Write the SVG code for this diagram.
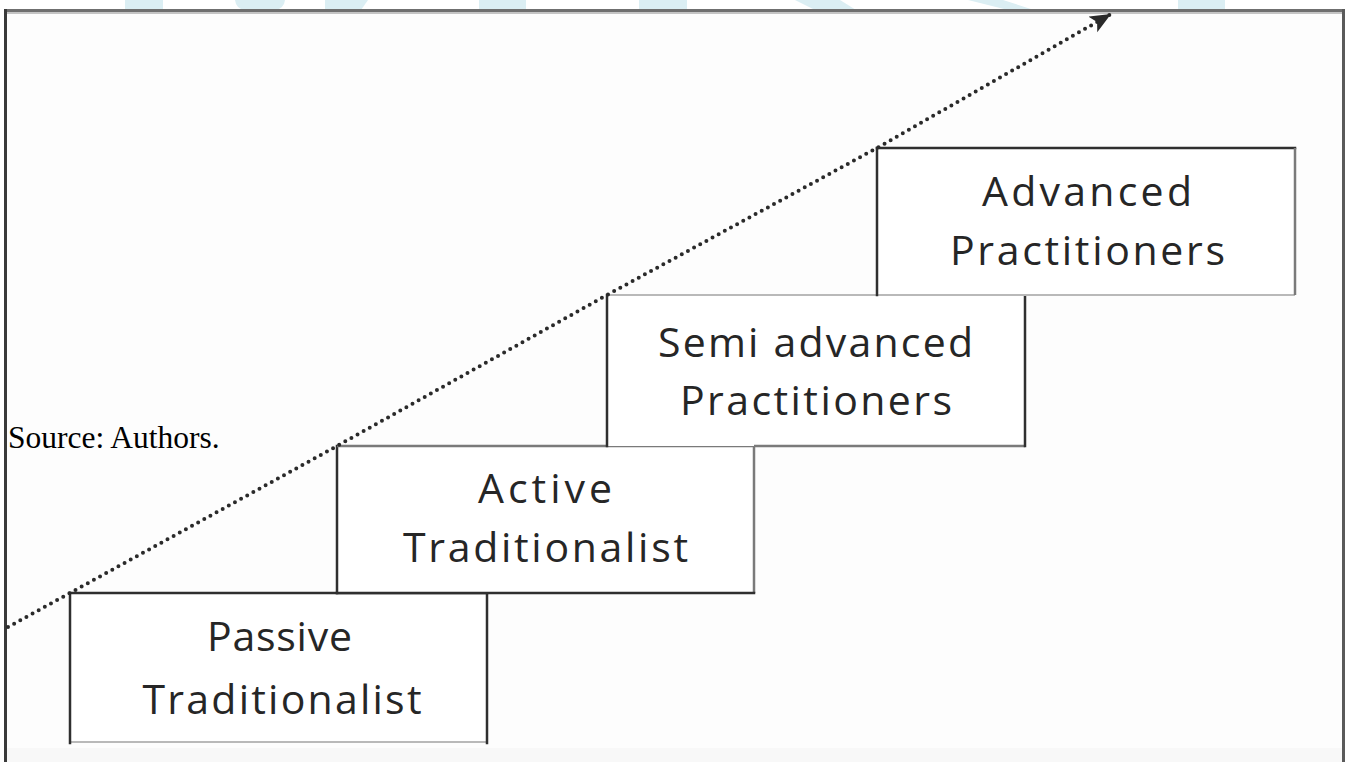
<svg xmlns="http://www.w3.org/2000/svg" width="1349" height="762" viewBox="0 0 1349 762">
  <style>
    .edge { stroke: #2f2f2f; stroke-width: 2.5; stroke-linecap: square; fill: none; }
    .edge-mid { stroke: #7a7a7a; stroke-width: 2.5; fill: none; }
    .edge-soft { stroke: #b9b9b9; stroke-width: 2; fill: none; }
    .label { font-family: "Open Sans", "Lato", "DejaVu Sans", sans-serif; font-size: 41px; fill: #262626; text-anchor: middle; }
    .note { font-family: "Liberation Serif", "Times New Roman", serif; font-size: 31.5px; fill: #000; }
    .mark { fill: #dbeef3; }
    .flow { stroke: #2a2a2a; stroke-width: 4; stroke-linecap: round; stroke-dasharray: 0 7; fill: none; }
  </style>
  <defs>
    <marker id="arrowhead" markerUnits="userSpaceOnUse" markerWidth="26" markerHeight="20" refX="21" refY="9" orient="auto">
      <path d="M0,0 L21,9 L0,18 L5,9 Z" fill="#2a2a2a"/>
    </marker>
  </defs>

  <!-- page -->
  <rect x="0" y="0" width="1349" height="762" fill="#ffffff"/>

  <!-- light banner shapes along the top edge -->
  <g id="banner">
    <rect class="mark" x="125" y="0" width="38" height="10"/>
    <path class="mark" d="M235,0 H285 Q284,8 276,10 H244 Q236,8 235,0 Z"/>
    <polygon class="mark" points="325,0 368,0 361,10 325,10"/>
    <rect class="mark" x="479" y="0" width="47" height="10"/>
    <rect class="mark" x="639" y="0" width="48" height="10"/>
    <polygon class="mark" points="795,0 840,0 856,10 815,10"/>
    <polygon class="mark" points="968,0 1003,0 1034,10 1008,10"/>
    <rect class="mark" x="1178" y="0" width="47" height="10"/>
  </g>

  <!-- figure frame -->
  <g id="frame">
    <rect x="6" y="10" width="1338" height="752" fill="#fdfdfd"/>
    <rect x="6" y="748" width="1336" height="14" fill="#f8f8f8"/>
    <rect x="4" y="9" width="1341" height="3" fill="#6f6f6f"/>
    <rect x="4" y="12" width="1341" height="2" fill="#c4c4c4"/>
    <rect x="4" y="9" width="3" height="753" fill="#3a3a3a"/>
    <rect x="1342" y="9" width="3" height="753" fill="#5a5a5a"/>
  </g>

  <!-- stages -->
  <g id="passive-traditionalist">
    <rect x="70" y="593" width="417" height="149" fill="#ffffff"/>
    <line class="edge-soft" x1="70" y1="742" x2="487" y2="742"/>
    <line class="edge" x1="70" y1="593" x2="487" y2="593"/>
    <line class="edge" x1="70" y1="593" x2="70" y2="743"/>
    <line class="edge" x1="487" y1="593" x2="487" y2="743"/>
    <text class="label" x="279.5" y="651" textLength="145" lengthAdjust="spacing">Passive</text>
    <text class="label" x="282" y="714" textLength="279" lengthAdjust="spacing">Traditionalist</text>
  </g>

  <g id="active-traditionalist">
    <rect x="337" y="446" width="417" height="147" fill="#ffffff"/>
    <line class="edge-mid" x1="754" y1="446" x2="754" y2="593"/>
    <line class="edge" x1="337" y1="593" x2="754" y2="593"/>
    <line class="edge" x1="337" y1="446" x2="337" y2="593"/>
    <line class="edge-mid" x1="337" y1="446" x2="754" y2="446"/>
    <text class="label" x="545" y="503" textLength="134" lengthAdjust="spacing">Active</text>
    <text class="label" x="545.5" y="562" textLength="285" lengthAdjust="spacing">Traditionalist</text>
  </g>

  <g id="semi-advanced-practitioners">
    <rect x="607" y="295" width="418" height="151" fill="#ffffff"/>
    <line class="edge-soft" x1="607" y1="295" x2="1025" y2="295"/>
    <line class="edge-mid" x1="754" y1="446" x2="1025" y2="446"/>
    <line class="edge" x1="607" y1="295" x2="607" y2="446"/>
    <line class="edge" x1="1025" y1="295" x2="1025" y2="446"/>
    <text class="label" x="815.5" y="357" textLength="315" lengthAdjust="spacing">Semi advanced</text>
    <text class="label" x="816" y="415" textLength="272" lengthAdjust="spacing">Practitioners</text>
  </g>

  <g id="advanced-practitioners">
    <rect x="877" y="148" width="418" height="147" fill="#ffffff"/>
    <line class="edge-soft" x1="877" y1="295" x2="1295" y2="295"/>
    <line class="edge" x1="877" y1="148" x2="1295" y2="148"/>
    <line class="edge" x1="877" y1="148" x2="877" y2="295"/>
    <line class="edge-mid" x1="1295" y1="148" x2="1295" y2="295"/>
    <text class="label" x="1087" y="206" textLength="210" lengthAdjust="spacing">Advanced</text>
    <text class="label" x="1087.5" y="265" textLength="275" lengthAdjust="spacing">Practitioners</text>
  </g>

  <!-- rising dotted trend line through the stage corners -->
  <g id="connectors">
    <polyline class="flow" points="8,627 70,593 337,446 607,295 877,148 1111,14" marker-end="url(#arrowhead)"/>
  </g>

  <text class="note" x="8" y="448">Source: Authors.</text>
</svg>
